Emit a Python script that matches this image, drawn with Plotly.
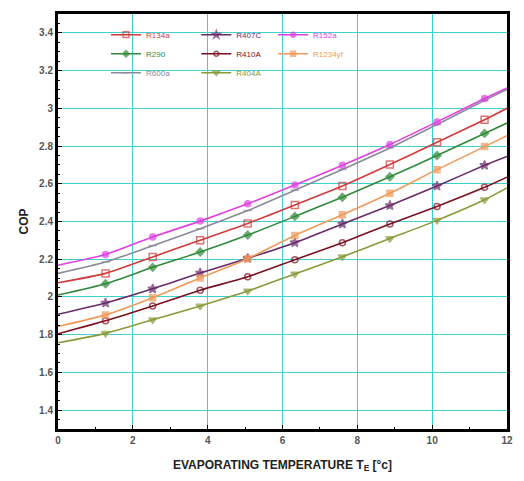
import plotly.graph_objects as go

x_vals = [0, 1.27, 2.53, 3.8, 5.07, 6.33, 7.6, 8.87, 10.13, 11.4, 12]

r134a = [2.075, 2.125, 2.212, 2.301, 2.39, 2.488, 2.588, 2.702, 2.82, 2.939, 3.0]
r407c = [1.908, 1.968, 2.043, 2.127, 2.205, 2.288, 2.387, 2.485, 2.588, 2.698, 2.745]
r152a = [2.168, 2.225, 2.318, 2.402, 2.494, 2.593, 2.698, 2.808, 2.928, 3.052, 3.108]
r290 = [2.01, 2.07, 2.157, 2.238, 2.328, 2.427, 2.529, 2.637, 2.75, 2.867, 2.922]
r410a = [1.805, 1.874, 1.952, 2.036, 2.107, 2.197, 2.288, 2.387, 2.48, 2.581, 2.635]
r1234yf = [1.843, 1.905, 1.996, 2.101, 2.203, 2.326, 2.436, 2.55, 2.675, 2.797, 2.855]
r600a = [2.125, 2.185, 2.272, 2.362, 2.458, 2.566, 2.676, 2.79, 2.914, 3.042, 3.10]
r404a = [1.757, 1.807, 1.879, 1.952, 2.031, 2.122, 2.213, 2.31, 2.406, 2.515, 2.578]

x_ticks = [0, 2, 4, 6, 8, 10, 12]
y_ticks = [1.4, 1.6, 1.8, 2.0, 2.2, 2.4, 2.6, 2.8, 3.0, 3.2, 3.4]
y_tick_labels = ["1.4", "1.6", "1.8", "2", "2.2", "2.4", "2.6", "2.8", "3", "3.2", "3.4"]

# name, values, colour, symbol, size, legend column
series = [
    ("R134a", r134a, "#d03a3a", "square-open", 7, "legend"),
    ("R290", r290, "#2f8a3a", "diamond", 6, "legend"),
    ("R600a", r600a, "#8a8a9a", "line-ew-open", 6, "legend"),
    ("R407C", r407c, "#6a2a6a", "star", 7, "legend2"),
    ("R410A", r410a, "#7a1020", "circle-open", 6, "legend2"),
    ("R404A", r404a, "#8a9a3a", "triangle-down", 7, "legend2"),
    ("R152a", r152a, "#e040e0", "circle", 6, "legend3"),
    ("R1234yf", r1234yf, "#f09a5a", "square", 6, "legend3"),
]

fig = go.Figure()
n = len(x_vals)
for name, vals, color, sym, size, leg in series:
    sizes = [0] + [size] * (n - 2) + [0]
    fig.add_trace(go.Scatter(
        x=x_vals, y=vals, mode="lines+markers",
        name=f"<span style='color:{color}'>{name}</span>",
        legend=leg,
        line=dict(color=color, width=1.6, shape="spline", smoothing=0.6),
        marker=dict(symbol=sym, size=sizes, color=color,
                    line=dict(color=color, width=1.5)),
    ))

leg_common = dict(orientation="v", yanchor="top", xanchor="left",
                  bgcolor="rgba(0,0,0,0)", font=dict(size=8),
                  itemwidth=30, tracegroupgap=0, borderwidth=0)
fig.update_layout(
    width=524, height=481,
    margin=dict(l=58, r=11, t=12, b=51),
    paper_bgcolor="white", plot_bgcolor="white",
    font=dict(family="Liberation Sans, Arial, sans-serif", color="#333"),
    legend=dict(x=0.107, y=0.985, **leg_common),
    legend2=dict(x=0.308, y=0.985, **leg_common),
    legend3=dict(x=0.479, y=0.985, **leg_common),
    showlegend=True,
)

fig.update_xaxes(
    range=[0, 12], tickvals=x_ticks, ticktext=[str(v) for v in x_ticks],
    showgrid=True, gridcolor="#3fd0d0", gridwidth=1.3,
    showline=True, linecolor="black", linewidth=3, mirror=True,
    ticks="inside", ticklen=4, tickcolor="black",
    minor=dict(ticks="inside", ticklen=2, dtick=1, tickcolor="black", showgrid=False),
    tickfont=dict(size=10, family="Liberation Sans, Arial", color="#555", weight="bold"),
    title=dict(text="<b>EVAPORATING TEMPERATURE T<sub>E</sub> [°c]</b>",
               font=dict(size=12, color="#222"), standoff=16),
    zeroline=False,
)
fig.update_yaxes(
    range=[1.3, 3.5], tickvals=y_ticks, ticktext=y_tick_labels,
    showgrid=True, gridcolor="#3fd0d0", gridwidth=1.3,
    showline=True, linecolor="black", linewidth=3, mirror=True,
    ticks="inside", ticklen=4, tickcolor="black",
    minor=dict(ticks="inside", ticklen=2, dtick=0.05, tickcolor="black", showgrid=False),
    tickfont=dict(size=10, family="Liberation Sans, Arial", color="#555", weight="bold"),
    title=dict(text="<b>COP</b>", font=dict(size=12, color="#222"), standoff=8),
    zeroline=False,
)

fig.write_html(
    "out.html",
    config={"displayModeBar": False},
    post_script="document.body.style.margin='0';document.body.style.overflow='hidden';",
)
